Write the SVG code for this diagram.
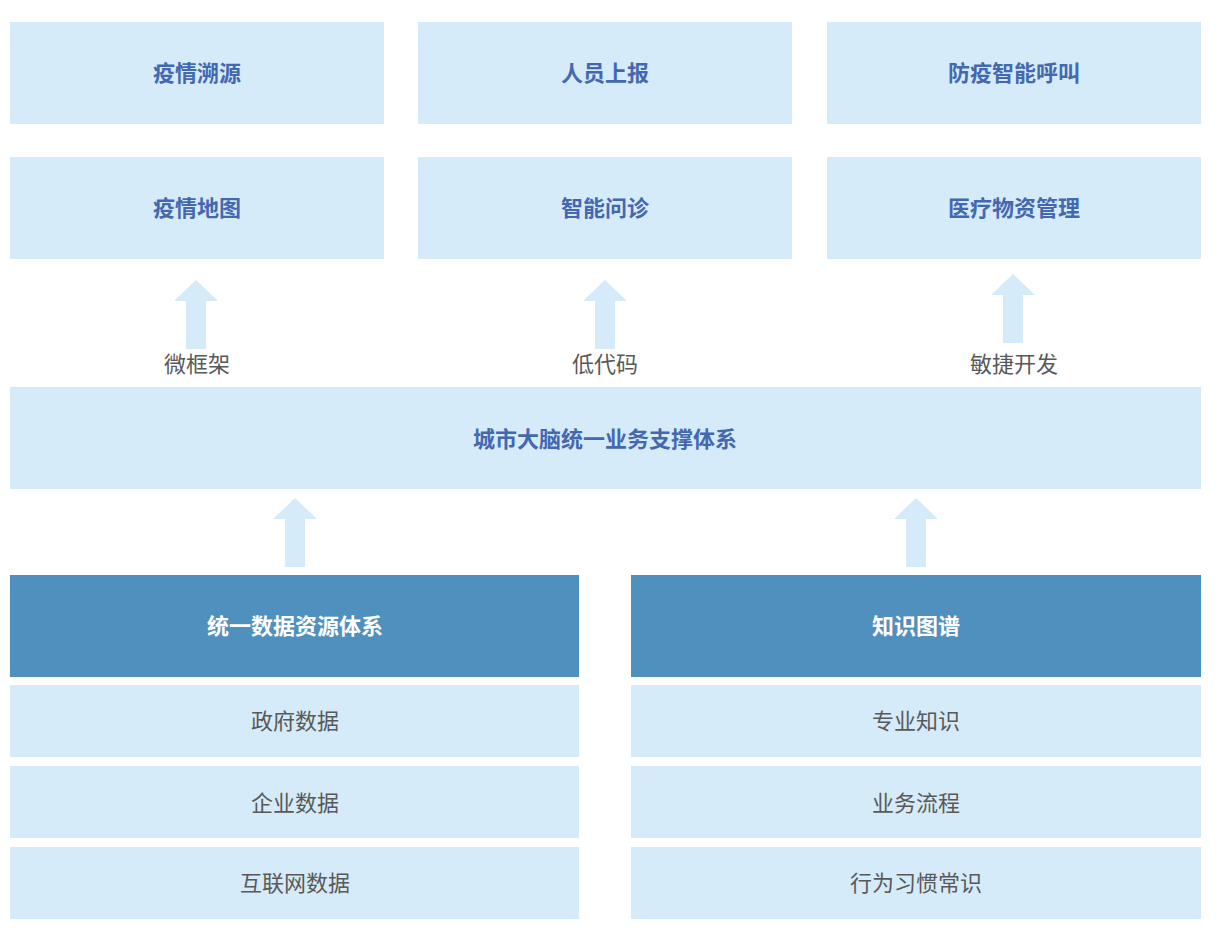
<svg xmlns="http://www.w3.org/2000/svg" width="1228" height="935" viewBox="0 0 1228 935">
<style>
.lb{fill:#D6EBF9}
.dk{fill:#5090BE}
.t{font-family:"Noto Sans CJK SC","Noto Sans",sans-serif;font-size:22px;text-anchor:middle}
.tb{fill:#4468B0;font-weight:700}
.tw{fill:#FFFFFF;font-weight:700}
.tg{fill:#595959}
.ar{fill:#D6EBF9}
</style>
<defs>
<path id="arrow" d="M0,0 L22,21 L10,21 L10,69 L-10,69 L-10,21 L-22,21 Z"/>
</defs>
<rect width="1228" height="935" fill="#FFFFFF"/>
<g id="n1"><rect class="lb" x="10" y="22" width="374" height="102"/><text class="t tb" x="197" y="81">疫情溯源</text></g>
<g id="n2"><rect class="lb" x="418" y="22" width="374" height="102"/><text class="t tb" x="605" y="81">人员上报</text></g>
<g id="n3"><rect class="lb" x="827" y="22" width="374" height="102"/><text class="t tb" x="1014" y="81">防疫智能呼叫</text></g>
<g id="n4"><rect class="lb" x="10" y="157" width="374" height="102"/><text class="t tb" x="197" y="216">疫情地图</text></g>
<g id="n5"><rect class="lb" x="418" y="157" width="374" height="102"/><text class="t tb" x="605" y="216">智能问诊</text></g>
<g id="n6"><rect class="lb" x="827" y="157" width="374" height="102"/><text class="t tb" x="1014" y="216">医疗物资管理</text></g>
<g id="n7"><rect class="lb" x="10" y="387" width="1191" height="102"/><text class="t tb" x="605" y="447">城市大脑统一业务支撑体系</text></g>
<g id="n8"><rect class="dk" x="10" y="575" width="569" height="102"/><text class="t tw" x="295" y="634">统一数据资源体系</text></g>
<g id="n9"><rect class="dk" x="631" y="575" width="570" height="102"/><text class="t tw" x="916" y="634">知识图谱</text></g>
<g id="n10"><rect class="lb" x="10" y="685" width="569" height="72"/><text class="t tg" x="295" y="729">政府数据</text></g>
<g id="n11"><rect class="lb" x="10" y="766" width="569" height="72"/><text class="t tg" x="295" y="811">企业数据</text></g>
<g id="n12"><rect class="lb" x="10" y="847" width="569" height="72"/><text class="t tg" x="295" y="891">互联网数据</text></g>
<g id="n13"><rect class="lb" x="631" y="685" width="570" height="72"/><text class="t tg" x="916" y="729">专业知识</text></g>
<g id="n14"><rect class="lb" x="631" y="766" width="570" height="72"/><text class="t tg" x="916" y="811">业务流程</text></g>
<g id="n15"><rect class="lb" x="631" y="847" width="570" height="72"/><text class="t tg" x="916" y="891">行为习惯常识</text></g>
<g id="connectors">
<use href="#arrow" class="ar" x="196" y="280"/>
<use href="#arrow" class="ar" x="605" y="280"/>
<use href="#arrow" class="ar" x="1013" y="274"/>
<use href="#arrow" class="ar" x="295" y="498"/>
<use href="#arrow" class="ar" x="916" y="498"/>
<text class="t tg" x="197" y="372">微框架</text>
<text class="t tg" x="605" y="372">低代码</text>
<text class="t tg" x="1014" y="372">敏捷开发</text>
</g>
</svg>
